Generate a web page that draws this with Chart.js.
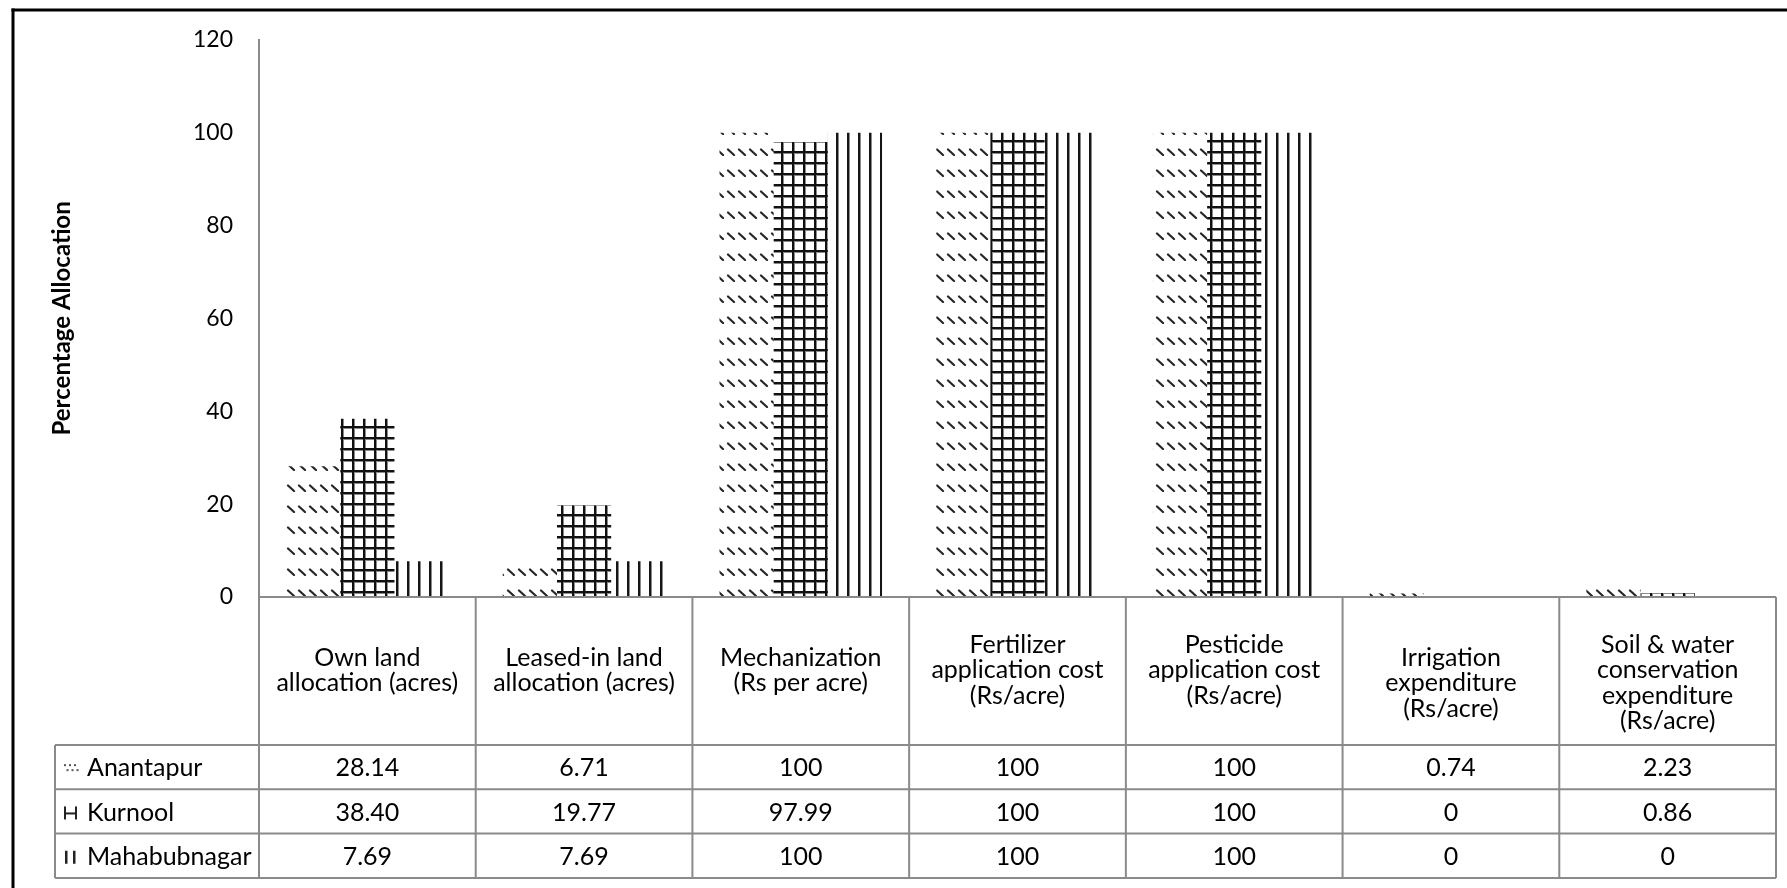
<!DOCTYPE html>
<html>
<head>
<meta charset="utf-8">
<script src="https://cdn.jsdelivr.net/npm/chart.js@4/dist/chart.umd.min.js"></script>
<style>
  html, body { margin: 0; padding: 0; background: #fff; }
  #wrap { width: 1787px; height: 888px; position: relative; }
</style>
</head>
<body>
<div id="wrap"><canvas id="c" width="1787" height="888"></canvas></div>
<script>
// Cost and land-use indicators (as % of the highest district), three districts.
// Header lines per category; a trailing blank line keeps the wrapped block where the cell puts it.
const categories = [
  ['Own land', 'allocation (acres)', ''],
  ['Leased-in land', 'allocation (acres)', ''],
  ['Mechanization', '(Rs per acre)', ''],
  ['Fertilizer', 'application cost', '(Rs/acre)', ''],
  ['Pesticide', 'application cost', '(Rs/acre)', ''],
  ['Irrigation', 'expenditure', '(Rs/acre)'],
  ['Soil & water', 'conservation', 'expenditure', '(Rs/acre)']
];
const anantapur    = [28.14, 6.71, 100, 100, 100, 0.74, 2.23];
const kurnool      = [38.40, 19.77, 97.99, 100, 100, 0, 0.86];
const mahabubnagar = [7.69, 7.69, 100, 100, 100, 0, 0];
const seriesNames  = ['Anantapur', 'Kurnool', 'Mahabubnagar'];
const yTicks       = [0, 20, 40, 60, 80, 100, 120];

const FONT = 'Lato, "Open Sans", sans-serif';
const LINE = '#8a8a8a';

const canvas = document.getElementById('c');
const ctx = canvas.getContext('2d');

function tile(w, h, paint) {
  const t = document.createElement('canvas');
  t.width = w; t.height = h;
  paint(t.getContext('2d'));
  return ctx.createPattern(t, 'repeat');
}

// rows of short downward-diagonal dashes (dash sits at the foot of the tile)
const dashPattern = tile(11, 21, g => {
  g.strokeStyle = '#262626';
  g.lineWidth = 2.2;
  g.lineCap = 'round';
  g.beginPath();
  g.moveTo(2, 14.5);
  g.lineTo(8, 20);
  g.stroke();
});
// square grid
const gridPattern = tile(11, 11, g => {
  g.fillStyle = '#111';
  g.fillRect(0, 0, 2, 11);
  g.fillRect(0, 0, 11, 2);
  g.fillStyle = '#8a8a8a';
  g.fillRect(2, 2, 1, 9);
  g.fillRect(2, 2, 9, 1);
});
// vertical lines
const vlinePattern = tile(11, 1, g => {
  g.fillStyle = '#151515';
  g.fillRect(0, 0, 2, 1);
  g.fillStyle = '#8a8a8a';
  g.fillRect(2, 0, 1, 1);
});
const fills = [dashPattern, gridPattern, vlinePattern];

function fmt(v) {
  return Number.isInteger(v) ? String(v) : v.toFixed(2);
}

// Legend swatches drawn inside the data table
function drawKey(g, idx, x, cy) {
  g.save();
  if (idx === 0) {
    g.fillStyle = '#555';
    [[0, -4], [5, -4], [10, -4], [2.5, 1], [7.5, 1], [12.5, 1]].forEach(([dx, dy]) => {
      g.fillRect(x + dx, cy + dy, 2, 2);
    });
  } else if (idx === 1) {
    g.fillStyle = '#222';
    g.fillRect(x, cy - 6, 2, 13);
    g.fillRect(x + 11, cy - 6, 2, 13);
    g.fillRect(x, cy, 13, 2);
  } else {
    g.fillStyle = '#222';
    g.fillRect(x + 1, cy - 6, 2.5, 13);
    g.fillRect(x + 9, cy - 6, 2.5, 13);
  }
  g.restore();
}

const tablePlugin = {
  id: 'dataTable',
  beforeDraw(chart) {
    const g = chart.ctx;
    g.save();
    g.fillStyle = '#fff';
    g.fillRect(0, 0, chart.width, chart.height);
    g.restore();
  },
  beforeDatasetsDraw(chart) {
    // anchor the fill patterns to the zero line
    const base = chart.scales.y.getPixelForValue(0);
    dashPattern.setTransform(new DOMMatrix([1, 0, 0, 1, 0, base % 21]));
    gridPattern.setTransform(new DOMMatrix([1, 0, 0, 1, 0, (base - 6) % 11]));
  },
  afterDraw(chart) {
    const g = chart.ctx;
    const xs = chart.scales.x;
    const area = chart.chartArea;
    const n = categories.length;
    const left = area.left, right = area.right, top = area.bottom;
    const colW = (right - left) / n;
    const headBottom = top + 148;
    const rowH = 44.3;
    const legendLeft = 55;
    const bottom = headBottom + rowH * seriesNames.length;

    g.save();
    // table grid
    g.strokeStyle = LINE;
    g.lineWidth = 2;
    g.beginPath();
    g.moveTo(left, top); g.lineTo(right, top);
    for (let r = 0; r <= seriesNames.length; r++) {
      const y = headBottom + r * rowH;
      g.moveTo(legendLeft, y); g.lineTo(right, y);
    }
    for (let i = 0; i <= n; i++) {
      const x = left + i * colW;
      g.moveTo(x, top); g.lineTo(x, bottom);
    }
    g.moveTo(legendLeft, headBottom); g.lineTo(legendLeft, bottom);
    g.stroke();

    // header text
    g.fillStyle = '#000';
    g.font = `25px ${FONT}`;
    g.textAlign = 'center';
    g.textBaseline = 'middle';
    const lh = 25.5;
    const headMid = 683;
    categories.forEach((lines, i) => {
      const cx = xs.getPixelForValue(i);
      const y0 = headMid - (lines.length - 1) * lh / 2;
      lines.forEach((t, k) => { if (t) g.fillText(t, cx, y0 + k * lh); });
    });

    // rows
    const series = [anantapur, kurnool, mahabubnagar];
    series.forEach((vals, r) => {
      const cy = headBottom + r * rowH + rowH / 2 + 1;
      g.textAlign = 'left';
      g.fillText(seriesNames[r], 87, cy);
      drawKey(g, r, 64, cy);
      g.textAlign = 'center';
      vals.forEach((v, i) => g.fillText(fmt(v), xs.getPixelForValue(i), cy));
    });

    // outer frame
    g.fillStyle = '#000';
    g.fillRect(11.5, 8.5, chart.width, 3);
    g.fillRect(11.5, 8.5, 3, chart.height);
    g.restore();
  }
};

new Chart(ctx, {
  type: 'bar',
  data: {
    labels: categories,
    datasets: [anantapur, kurnool, mahabubnagar].map((d, i) => ({
      label: seriesNames[i],
      data: d,
      backgroundColor: fills[i],
      borderWidth: 0,
      categoryPercentage: 0.75,
      barPercentage: 1.0
    }))
  },
  options: {
    responsive: false,
    animation: false,
    devicePixelRatio: 1,
    layout: { padding: { left: 0, top: 38, right: 11, bottom: 291 } },
    plugins: { legend: { display: false }, tooltip: { enabled: false } },
    scales: {
      x: { display: false },
      y: {
        min: yTicks[0],
        max: yTicks[yTicks.length - 1],
        afterFit(s) { s.width = 259; },
        afterBuildTicks(s) { s.ticks = yTicks.map(v => ({ value: v })); },
        ticks: { padding: 26, color: '#000', font: { family: FONT, size: 23 } },
        grid: { display: false, drawTicks: false },
        border: { display: true, color: LINE, width: 2 },
        title: {
          display: true,
          text: 'Percentage Allocation',
          color: '#000',
          font: { family: FONT, size: 24, weight: 'bold' },
          padding: { top: 48, bottom: 0 }
        }
      }
    }
  },
  plugins: [tablePlugin]
});
</script>
</body>
</html>
